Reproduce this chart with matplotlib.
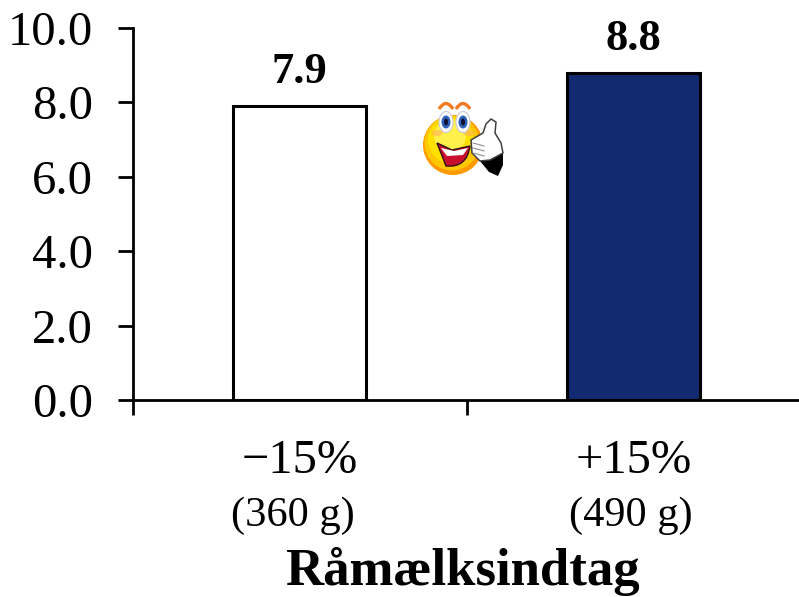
import matplotlib
matplotlib.use('Agg')
import matplotlib.pyplot as plt
from matplotlib.patches import Circle, Ellipse, Polygon, PathPatch
from matplotlib.path import Path

plt.rcParams['font.family'] = ['Liberation Serif', 'DejaVu Serif']

categories = ['\u221215%', '+15%']
amounts = ['(360 g)', '(490 g)']
values = [7.9, 8.8]
bar_colors = ['white', '#122A6F']
y_ticks = [0, 2, 4, 6, 8, 10]
x_title = 'Råmælksindtag'

W, H = 799, 597
fig = plt.figure(figsize=(W / 100, H / 100), dpi=100)
ax = fig.add_axes([133 / W, 1 - 400 / H, (800 - 133) / W, (400 - 28) / H])

x = [0, 1]
ax.bar(x, values, width=0.4, color=bar_colors, edgecolor='black', linewidth=2.2)
ax.set_xlim(-0.5, 1.5)
ax.set_ylim(0, 10)

for xi, v in zip(x, values):
    ax.text(xi, v + 0.38, f'{v:.1f}', ha='center', va='bottom', fontsize=32, fontweight='bold')

ax.spines['top'].set_visible(False)
ax.spines['right'].set_visible(False)
ax.spines['left'].set_linewidth(2)
ax.spines['bottom'].set_linewidth(2)
ax.set_yticks(y_ticks)
ax.set_yticklabels([f'{t:.1f}' for t in y_ticks], fontsize=35)
ax.set_xticks([-0.5, 0.5, 1.5])
ax.set_xticklabels([])
ax.tick_params(axis='y', length=11, width=2, pad=18, direction='out')
ax.tick_params(axis='x', length=11, width=2)

for xi, c, a, off in zip(x, categories, amounts, (-5, -2)):
    ax.text(xi, -1.63, c, ha='center', va='center', fontsize=35)
    ax.annotate(a, xy=(xi, -3.1), xycoords='data', xytext=(off, 0), textcoords='offset points',
                ha='center', va='center', fontsize=30.5, annotation_clip=False)
fig.text(462 / W, 1 - 572 / H, x_title, ha='center', va='center', fontsize=38, fontweight='bold')

# smiley giving a thumbs up, in pixel coordinates
ov = fig.add_axes([0, 0, 1, 1])
ov.set_xlim(0, W)
ov.set_ylim(H, 0)
ov.axis('off')
ov.patch.set_alpha(0)

# face shading from the orange rim towards the pale highlight
ov.add_patch(Circle((453, 145), 30, facecolor='#FF9A00', edgecolor='none'))
ov.add_patch(Circle((452, 143), 27.5, facecolor='#FFC800', edgecolor='none'))
ov.add_patch(Circle((451, 140), 23, facecolor='#FFE000', edgecolor='none'))
ov.add_patch(Circle((450, 136), 16, facecolor='#FFF04A', edgecolor='none'))
for cx in (437, 469):
    ov.add_patch(Ellipse((cx, 133), 11, 6, facecolor='#FFB060', edgecolor='none', alpha=0.6))

# eyes and brows
for ex, bx in ((446, 446), (463, 463)):
    ov.add_patch(Ellipse((ex, 122), 14, 21, facecolor='white', edgecolor='#C8C8D8', linewidth=0.8))
    ov.add_patch(Ellipse((ex, 122), 9, 13, facecolor='#2E62B8', edgecolor='none'))
    ov.add_patch(Ellipse((ex, 122), 4, 7, facecolor='#101030', edgecolor='none'))
    brow = Path([(bx - 7, 109), (bx, 98), (bx + 7, 109)],
                [Path.MOVETO, Path.CURVE3, Path.CURVE3])
    ov.add_patch(PathPatch(brow, facecolor='none', edgecolor='#F07A20', linewidth=2.4))

# open mouth with teeth
mouth = Path([(437, 143), (452, 150), (470, 146), (467, 168), (446, 166), (437, 143)],
             [Path.MOVETO, Path.LINETO, Path.LINETO, Path.CURVE3, Path.CURVE3, Path.LINETO])
ov.add_patch(PathPatch(mouth, facecolor='#C8102E', edgecolor='#301010', linewidth=1))
teeth = Path([(441, 148), (454, 151), (468, 148), (463, 155), (447, 156), (441, 148)],
             [Path.MOVETO, Path.LINETO, Path.LINETO, Path.LINETO, Path.LINETO, Path.LINETO])
ov.add_patch(PathPatch(teeth, facecolor='white', edgecolor='none'))

# sleeve and gloved hand
ov.add_patch(Polygon([(480, 161), (503, 152), (503, 165), (498, 176), (489, 172)], closed=True,
                     facecolor='black', edgecolor='none'))
ov.add_patch(Polygon([(471, 140), (483, 133), (486, 124), (491, 119), (496, 122), (495, 133), (501, 143),
                      (503, 153), (490, 160), (480, 161), (472, 153)], closed=True,
                     facecolor='white', edgecolor='#404040', linewidth=1.1, joinstyle='round'))
for fy in (146, 151, 156):
    ov.plot([473, 484], [fy - 3, fy], color='#909090', linewidth=0.8)

fig.savefig('out.png', dpi=100)
